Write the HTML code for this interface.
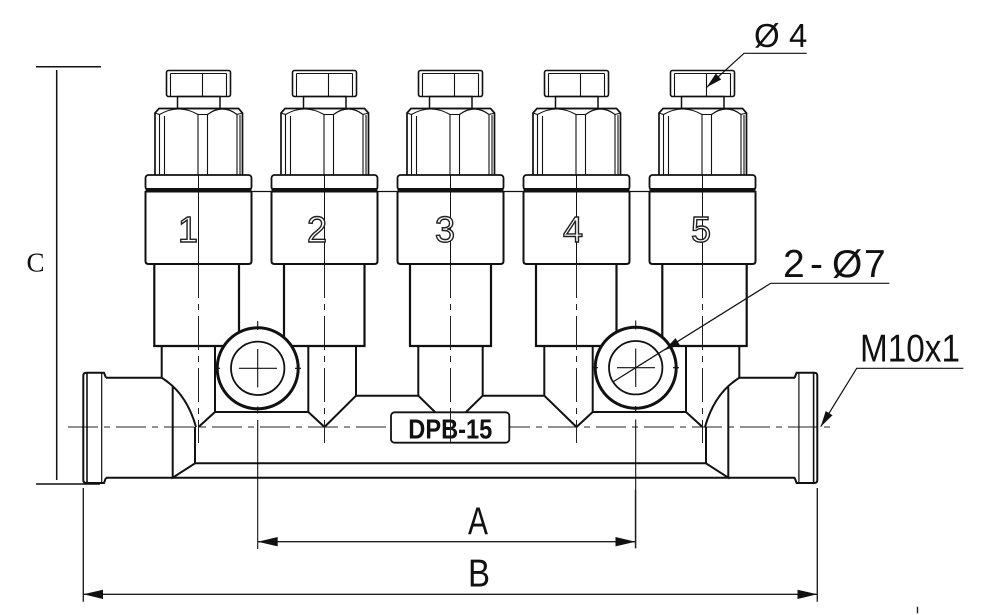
<!DOCTYPE html>
<html><head><meta charset="utf-8"><style>
html,body{margin:0;padding:0;background:#fff;}
svg{display:block;}
</style></head><body>
<svg width="990" height="615" viewBox="0 0 990 615" xmlns="http://www.w3.org/2000/svg" xmlns:xlink="http://www.w3.org/1999/xlink">
<defs>
<g id="vt" fill="none" stroke="#111">
 <rect x="-32" y="70.5" width="64" height="26" rx="2" stroke-width="1.6"/>
 <path d="M-28,73.5 H28 M-28,73.5 V96.5 M28,73.5 V96.5 M4,73.5 V96.5" stroke-width="1.1"/>
 <rect x="-21" y="96.5" width="42.5" height="12" stroke-width="1.5"/>
 <path d="M-43.5,175 V113 L-39.5,108.5 H40 L44,113 V175" stroke-width="1.7"/>
 <path d="M-39,114.5 Q-20,103.5 -0.5,114.5 H9 Q24,103.5 38.5,114.5 M-43.5,113 L-39,114.5 M38.5,114.5 L44,113" stroke-width="1.1"/>
 <path d="M-39,114.5 V175 M-34,116 V175 M-0.5,114.5 V175 M9,114.5 V175 M38.5,114.5 V175 M41.5,115 V175" stroke-width="1.1"/>
 <rect x="-53" y="175" width="106" height="15" rx="3" fill="#fff" stroke-width="1.8"/>
 <rect x="-53" y="188" width="106" height="4.5" fill="#111" stroke="none"/>
 <path d="M-53,191 V261 Q-53,264 -50,264 H50 Q53,264 53,261 V191" stroke-width="2"/>
 <path d="M0,175 V264" stroke-width="1"/>
</g>
<g id="cap" fill="none" stroke="#111">
 <path d="M106,377.7 L104,372.7 H86.3 Q83.3,372.7 83.3,375.7 V480 Q83.3,483 86.3,483 H104 L106,477.7" stroke-width="2"/>
 <path d="M87,372.7 V483" stroke-width="1.6"/>
 <path d="M101.7,372.7 V483" stroke-width="1.2"/>
</g>
</defs>

<rect width="990" height="615" fill="#fff"/>

<!-- horizontal centerline -->
<path d="M68,427 H833" stroke="#222" stroke-width="1" stroke-dasharray="30 6 6 6" fill="none"/>

<!-- connecting line between flanges -->
<path d="M146,191.5 H756" stroke="#111" stroke-width="1.3"/>

<!-- valve tops -->
<use xlink:href="#vt" href="#vt" x="198.5"/>
<use xlink:href="#vt" href="#vt" x="324.5"/>
<use xlink:href="#vt" href="#vt" x="450.5"/>
<use xlink:href="#vt" href="#vt" x="576.5"/>
<use xlink:href="#vt" href="#vt" x="702.5"/>

<!-- digits -->
<g font-family="'Liberation Sans', sans-serif" font-size="36" text-anchor="middle" fill="#fff" stroke="#222" stroke-width="1.4">
 <text x="188" y="242">1</text>
 <text x="317" y="242">2</text>
 <text x="445" y="242">3</text>
 <text x="573" y="242">4</text>
 <text x="701" y="242">5</text>
</g>

<g fill="none" stroke="#111" stroke-width="2">
 <!-- middle sections -->
 <path d="M154.3,264 V346 H239 V264 M284,264 V346 H364.5 V264 M410,264 V346 H491 V264 M536,264 V346 H616.5 V264 M662.3,264 V346 H746.7 V264" stroke-width="2.2"/>
 <!-- lower sections -->
 <path d="M161.7,346 V377.7 M739.3,346 V377.7
  M356,346 V395.7 H418.3 V346 M482.7,346 V395.7 H544.3 V346
  M356,395.7 L324.5,427 M418.3,395.7 L437,414 M482.7,395.7 L464,414 M544.3,395.7 L576.5,427
  M215,346 V412 H308.3 V346 M215,412 L198.5,427 M308.3,412 L324.5,427
  M592.7,346 V412 H686 V346 M592.7,412 L576.5,427 M686,412 L702.5,427
  M215,346 H308.3 M592.7,346 H686"/>
 <!-- body -->
 <path d="M106,377.7 H161.7 L165,380 Q187,395 196,427 M172.7,387 V477.7 L195,463.3 V427 M195,463.3 H706 M106,477.7 H795 M795,377.7 H739.3 L736,380 Q714,395 705,427 M728.3,387 V477.7 L706,463.3 V427"/>
</g>

<!-- end caps -->
<use xlink:href="#cap" href="#cap"/>
<g transform="matrix(-1 0 0 1 900.6 0)"><use xlink:href="#cap" href="#cap"/></g>

<!-- holes -->
<g fill="none" stroke="#111">
 <circle cx="257.7" cy="368.3" r="40.5" fill="#fff" stroke-width="3"/>
 <circle cx="257.7" cy="368.3" r="26.7" stroke-width="1.8"/>
 <circle cx="635.7" cy="367.7" r="40.5" fill="#fff" stroke-width="3"/>
 <circle cx="635.7" cy="367.7" r="26.7" stroke-width="1.8"/>
 <path d="M239,368.3 H277 M257.7,349 V387.5 M214,368.3 H220 M295,368.3 H301 M257.7,321 V330 M257.7,406.5 V413.5 M257.7,420 V549" stroke-width="1.1"/>
 <path d="M617,367.7 H655 M635.7,348.5 V387 M592,367.7 H598 M673,367.7 H679 M635.7,320.5 V329.5 M635.7,406 V413 M635.7,419.5 V548.3" stroke-width="1.1"/>
</g>

<!-- valve centerlines -->
<path d="M198.5,264 V443 M324.5,264 V443 M450.5,264 V443 M576.5,264 V443 M702.5,264 V443" stroke="#222" stroke-width="1" stroke-dasharray="34 6 6 6" fill="none"/>

<!-- DPB-15 label -->
<rect x="391" y="412.3" width="118.3" height="30.4" rx="3.5" fill="#fff" stroke="#111" stroke-width="1.8"/>
<text x="408.3" y="438.3" font-family="'Liberation Sans', sans-serif" font-weight="bold" font-size="28" textLength="84" lengthAdjust="spacingAndGlyphs" fill="#111">DPB-15</text>
<path d="M450.5,412.3 V442.7" stroke="#222" stroke-width="1"/>

<!-- dimension C -->
<g stroke="#111" stroke-width="1.5" fill="none">
 <path d="M36,66.7 H101 M56.7,70 V480 M36,484 H100"/>
</g>
<text x="26.5" y="271.7" font-family="'Liberation Serif', serif" font-size="27" fill="#111">C</text>

<!-- dimensions A and B -->
<g stroke="#222" stroke-width="1.4" fill="none">
 <path d="M257.7,541.7 H635.5 M635.5,490 V548.3"/>
 <path d="M83.3,594.3 H817.3 M83.3,488 V601.7 M817.3,488 V601.7"/>
 <path d="M917.5,606.7 V613.3"/>
</g>
<g fill="#111">
 <polygon points="257.7,541.7 277.7,537 277.7,546.4"/>
 <polygon points="635.5,541.7 615.5,537 615.5,546.4"/>
 <polygon points="83.3,594.3 103,589.7 103,599"/>
 <polygon points="817.3,594.3 797.5,589.7 797.5,599"/>
</g>
<text x="468" y="534.3" font-family="'Liberation Sans', sans-serif" font-size="39" textLength="20" lengthAdjust="spacingAndGlyphs" fill="#111">A</text>
<text x="468" y="586.7" font-family="'Liberation Sans', sans-serif" font-size="39" textLength="22" lengthAdjust="spacingAndGlyphs" fill="#111">B</text>

<!-- leaders -->
<g stroke="#111" stroke-width="1.2" fill="none">
 <path d="M806.7,53.3 H744 L706.7,87.3"/>
 <path d="M889.3,283.3 H770.7 L613.3,381.7"/>
 <path d="M963.3,368.3 H856.7 L820.7,426.7"/>
</g>
<g fill="#111">
 <polygon points="706.7,87.3 721.2,79.5 715.8,73.5"/>
 <polygon points="664,350.5 679.7,344.9 675.5,338.1"/>
 <polygon points="820.7,426.7 832.5,415.2 825.7,411"/>
</g>

<g font-family="'Liberation Sans', sans-serif" fill="#111">
 <text y="47" font-size="33"><tspan x="754">Ø</tspan><tspan x="789">4</tspan></text>
 <text y="277" font-size="39"><tspan x="783">2</tspan><tspan x="810">-</tspan><tspan x="832">Ø</tspan><tspan x="864">7</tspan></text>
 <text x="860" y="361.7" font-size="39" textLength="100" lengthAdjust="spacingAndGlyphs">M10x1</text>
</g>
</svg>
</body></html>
